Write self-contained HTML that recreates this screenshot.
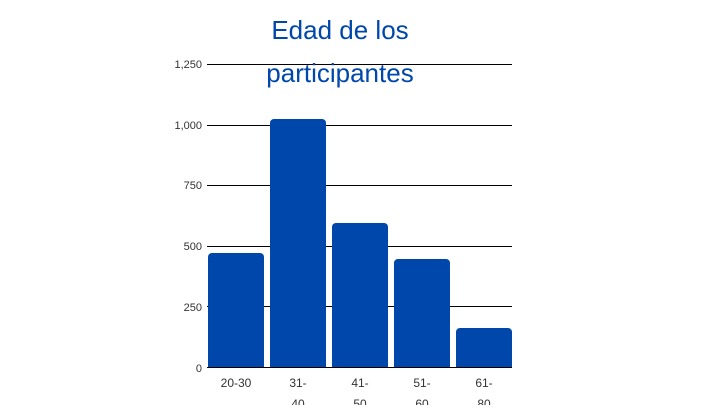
<!DOCTYPE html>
<html><head><meta charset="utf-8"><style>
body{margin:0;background:#fff;width:720px;height:405px;overflow:hidden}
</style></head><body>
<svg width="720" height="405" xmlns="http://www.w3.org/2000/svg" font-family="Liberation Sans, sans-serif">
<g stroke="#000" stroke-width="1">
<line x1="207" x2="512" y1="64.5" y2="64.5"/>
<line x1="207" x2="512" y1="125.5" y2="125.5"/>
<line x1="207" x2="512" y1="185.5" y2="185.5"/>
<line x1="207" x2="512" y1="246.5" y2="246.5"/>
<line x1="207" x2="512" y1="306.5" y2="306.5"/>
</g>
<g fill="#333" font-size="11" text-anchor="end">
<text x="202" y="68">1,250</text>
<text x="202" y="129">1,000</text>
<text x="202" y="189">750</text>
<text x="202" y="250">500</text>
<text x="202" y="311">250</text>
<text x="202" y="372">0</text>
</g>
<g fill="#0047AB">
<rect x="208" y="253" width="56" height="115" rx="4"/><rect x="208" y="340" width="56" height="28"/>
<rect x="270" y="119" width="56" height="249" rx="4"/><rect x="270" y="340" width="56" height="28"/>
<rect x="332" y="223" width="56" height="145" rx="4"/><rect x="332" y="340" width="56" height="28"/>
<rect x="394" y="259" width="56" height="109" rx="4"/><rect x="394" y="340" width="56" height="28"/>
<rect x="456" y="328" width="56" height="40" rx="4"/><rect x="456" y="345" width="56" height="23"/>
</g>
<line x1="207" x2="512" y1="367.5" y2="367.5" stroke="#000"/>
<g fill="#333" font-size="12" text-anchor="middle">
<text x="236" y="387">20-30</text>
<text x="298" y="387">31-</text><text x="298" y="408">40</text>
<text x="360" y="387">41-</text><text x="360" y="408">50</text>
<text x="422" y="387">51-</text><text x="422" y="408">60</text>
<text x="484" y="387">61-</text><text x="484" y="408">80</text>
</g>
<g fill="#0047AB" font-size="26" text-anchor="middle">
<text x="340" y="39">Edad de los</text>
<text x="340" y="82">participantes</text>
</g>
</svg>
</body></html>
